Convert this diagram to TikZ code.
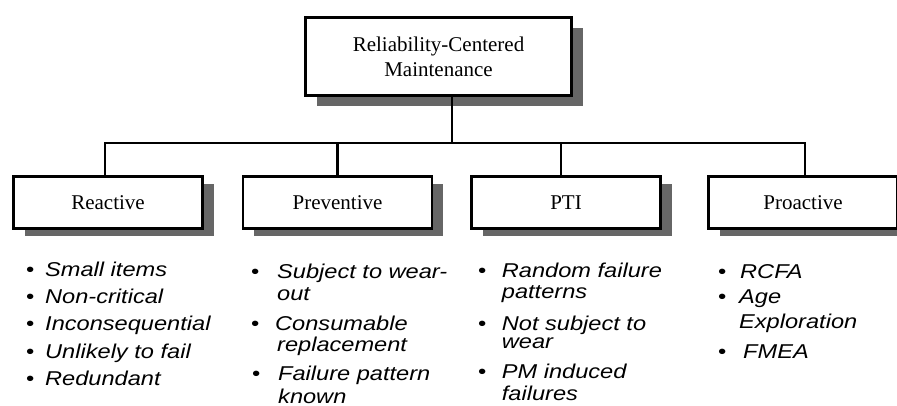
\documentclass[tikz,border=0pt]{standalone}
\usepackage{fontspec}
\setmainfont{Liberation Serif}
\newfontfamily\itemfont[FakeStretch=1.18]{Liberation Sans}
\usetikzlibrary{calc,shadows}

\definecolor{shadowgray}{HTML}{666666}
\newcommand\bul[1]{\makebox[#1][l]{\upshape\textbullet}}

\tikzset{
  box/.style={draw, line width=2.6pt, fill=white, inner sep=0pt,
    font=\fontsize{21}{25}\selectfont, align=center},
  topbox/.style={box, minimum width=266pt, minimum height=78pt,
    drop shadow={shadow xshift=11pt, shadow yshift=-11pt, fill=shadowgray, opacity=1}},
  catbox/.style={box, minimum width=189pt, minimum height=52pt,
    drop shadow={shadow xshift=11pt, shadow yshift=-8pt, fill=shadowgray, opacity=1}},
  conn/.style={line width=2.2pt, line join=miter},
  itm/.style={anchor=base west, inner sep=0pt,
    font=\itemfont\itshape\fontsize{20}{22}\selectfont},
}

\begin{document}
\begin{tikzpicture}[x=1pt, y=-1pt]
  \useasboundingbox (0,0) rectangle (897,406);

  % root and the four maintenance strategies
  \node[topbox] (rcm) at (438.5,56.5) {Reliability-Centered\\Maintenance};
  \node[catbox] (rea) at (108,202.5) {Reactive};
  \node[catbox] (pre) at (337.5,202.5) {Preventive};
  \node[catbox] (pti) at (566,202.5) {PTI};
  \node[catbox] (pro) at (803,202.5) {Proactive};

  % tree connectors
  \coordinate (bus) at (0,142.7);
  \draw[conn] ([xshift=13.5pt]rcm.south) -- ([xshift=13.5pt]rcm.south |- bus);
  \draw[conn] ([xshift=-3pt]rea.north) |- ([xshift=2pt]pro.north |- bus)
              -- ([xshift=2pt]pro.north);
  \draw[conn] (pre.north) -- (pre.north |- bus);
  \draw[conn] ([xshift=-5pt]pti.north) -- ([xshift=-5pt]pti.north |- bus);

  % Reactive
  \node[itm] (r1) at (26,276.7) {\bul{19pt}Small items};
  \node[itm] (r2) at (26,303.3) {\bul{19pt}Non-critical};
  \node[itm] (r3) at (26,330.7) {\bul{19pt}Inconsequential};
  \node[itm] (r4) at (26,358)   {\bul{19pt}Unlikely to fail};
  \node[itm] (r5) at (26,385)   {\bul{19pt}Redundant};

  % Preventive
  \node[itm] (p1)  at (251,278)   {\bul{26pt}Subject to wear-};
  \node[itm] (p1b) at (277,300)   {out};
  \node[itm] (p2)  at (251,330.7) {\bul{24pt}Consumable};
  \node[itm] (p2b) at (277,351.7) {replacement};
  \node[itm] (p3)  at (252,380)   {\bul{26pt}Failure pattern};
  \node[itm] (p3b) at (278,403)   {known};

  % PTI
  \node[itm] (t1)  at (478,277)   {\bul{23.7pt}Random failure};
  \node[itm] (t1b) at (501.7,298.3) {patterns};
  \node[itm] (t2)  at (478,330.7) {\bul{23.7pt}Not subject to};
  \node[itm] (t2b) at (501.7,348) {wear};
  \node[itm] (t3)  at (478,378)   {\bul{23.7pt}PM induced};
  \node[itm] (t3b) at (501.7,400) {failures};

  % Proactive
  \node[itm] (a1)  at (718,279) {\bul{22pt}RCFA};
  \node[itm] (a2)  at (718,303) {\bul{21pt}Age};
  \node[itm] (a2b) at (739,328) {Exploration};
  \node[itm] (a3)  at (718,358) {\bul{25pt}FMEA};
\end{tikzpicture}
\end{document}
